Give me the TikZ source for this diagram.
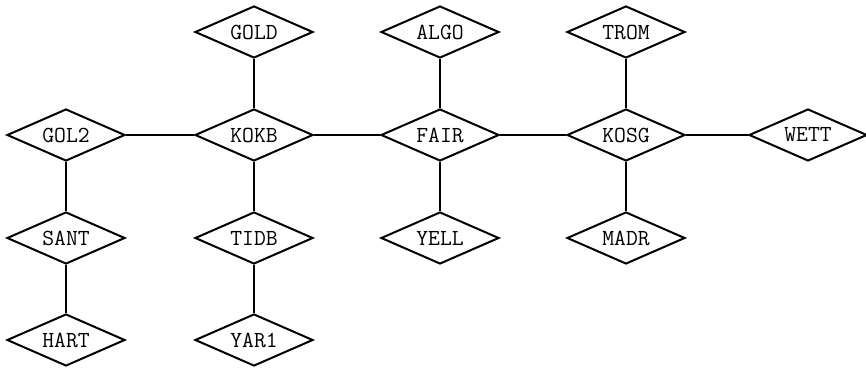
\documentclass[tikz,border=0pt]{standalone}
\usetikzlibrary{shapes.geometric}
\begin{document}
\begin{tikzpicture}[x=1pt,y=-1pt,
  site/.style={diamond,draw,line width=2pt,aspect=2.27,inner sep=0pt,
    minimum width=118pt,minimum height=52pt,
    font=\fontsize{23}{26}\selectfont\ttfamily},
  link/.style={line width=1.5pt}]
\useasboundingbox (0,0) rectangle (866,369);
\node[site] (GOL2) at (66,135) {GOL2};
\node[site] (SANT) at (66,238) {SANT};
\node[site] (HART) at (66,340) {HART};
\node[site] (GOLD) at (254,32) {GOLD};
\node[site] (KOKB) at (254,135) {KOKB};
\node[site] (TIDB) at (254,238) {TIDB};
\node[site] (YAR1) at (254,340) {YAR1};
\node[site] (ALGO) at (440,32) {ALGO};
\node[site] (FAIR) at (440,135) {FAIR};
\node[site] (YELL) at (440,238) {YELL};
\node[site] (TROM) at (626,32) {TROM};
\node[site] (KOSG) at (626,135) {KOSG};
\node[site] (MADR) at (626,238) {MADR};
\node[site] (WETT) at (808,135) {WETT};
\draw[link] (GOL2) -- (KOKB);
\draw[link] (KOKB) -- (FAIR);
\draw[link] (FAIR) -- (KOSG);
\draw[link] (KOSG) -- (WETT);
\draw[link] (GOL2) -- (SANT);
\draw[link] (SANT) -- (HART);
\draw[link] (GOLD) -- (KOKB);
\draw[link] (KOKB) -- (TIDB);
\draw[link] (TIDB) -- (YAR1);
\draw[link] (ALGO) -- (FAIR);
\draw[link] (FAIR) -- (YELL);
\draw[link] (TROM) -- (KOSG);
\draw[link] (KOSG) -- (MADR);
\end{tikzpicture}
\end{document}
